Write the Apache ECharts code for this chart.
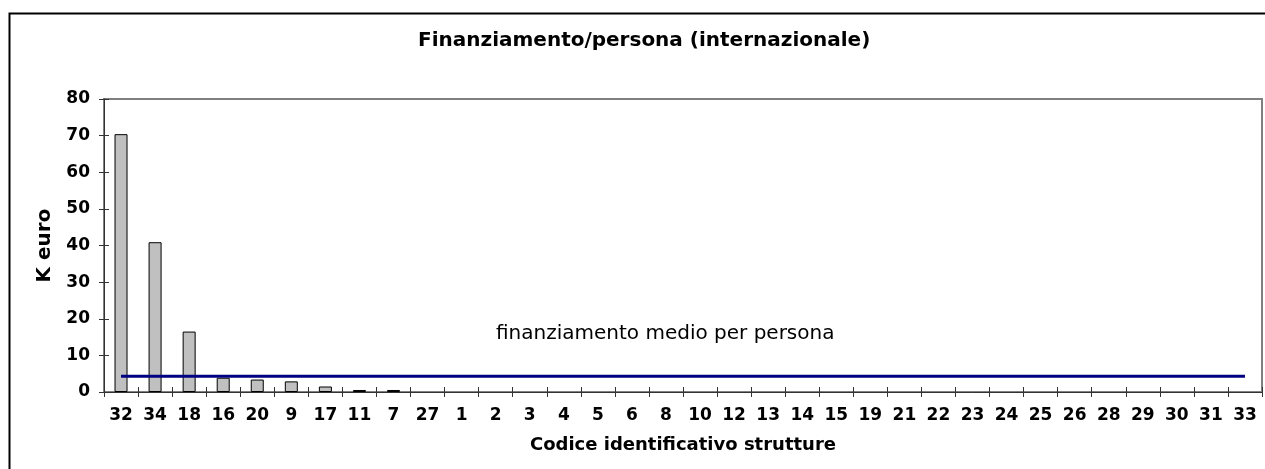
<!DOCTYPE html>
<html>
<head>
<meta charset="utf-8">
<script src="https://cdn.jsdelivr.net/npm/echarts@6/dist/echarts.min.js"></script>
<style>html,body{margin:0;padding:0;background:#fff}#c{width:1265px;height:469px}</style>
</head>
<body>
<div id="c"></div>
<script>
const titleText = 'Finanziamento/persona (internazionale)';
const yAxisName = 'K euro';
const xAxisName = 'Codice identificativo strutture';
const avgLabel = 'finanziamento medio per persona';
const categories = ['32','34','18','16','20','9','17','11','7','27','1','2','3','4','5','6','8','10','12','13','14','15','19','21','22','23','24','25','26','28','29','30','31','33'];
const values = [70.4, 40.9, 16.5, 3.9, 3.4, 2.9, 1.5, 0.55, 0.55, 0, 0, 0, 0, 0, 0, 0, 0, 0, 0, 0, 0, 0, 0, 0, 0, 0, 0, 0, 0, 0, 0, 0, 0, 0];
const averageValue = 4.3;
const averageLine = categories.map(() => averageValue);
const yTicks = {min: 0, max: 80, interval: 10};

const FONT = 'DejaVu Sans';
const chart = echarts.init(document.getElementById('c'));
chart.setOption({
  animation: false,
  backgroundColor: '#fff',
  textStyle: {fontFamily: FONT},
  title: {
    text: titleText, left: 413, top: 26,
    textStyle: {fontFamily: FONT, fontWeight: 'bold', fontSize: 20, color: '#000'}
  },
  graphic: [
    {type: 'rect', left: 7, top: 11, shape: {width: 1275, height: 475}, style: {fill: 'none', stroke: '#000', lineWidth: 2}, silent: true, z: 100},
    {type: 'text', left: 496, top: 324, style: {text: avgLabel, font: '20px "DejaVu Sans"', fill: '#000'}, z: 100}
  ],
  grid: {left: 104, right: 3, top: 99, bottom: 77, show: true, borderColor: '#808080', borderWidth: 2, backgroundColor: 'transparent'},
  xAxis: [{
    type: 'category', data: categories,
    name: xAxisName, nameLocation: 'middle', nameGap: 44,
    nameTextStyle: {fontFamily: FONT, fontWeight: 'bold', fontSize: 18, color: '#000'},
    axisLine: {lineStyle: {color: '#333', width: 1}},
    axisTick: {show: true, length: 5, alignWithLabel: false, lineStyle: {color: '#333'}},
    axisLabel: {fontFamily: FONT, fontWeight: 'bold', fontSize: 17, color: '#000', margin: 15, interval: 0}
  }, {
    type: 'category', data: categories, position: 'bottom',
    axisLine: {show: false},
    axisTick: {show: true, inside: true, length: 5, lineStyle: {color: '#333'}},
    axisLabel: {show: false}
  }],
  yAxis: [{
    type: 'value', min: yTicks.min, max: yTicks.max, interval: yTicks.interval,
    name: yAxisName, nameLocation: 'middle', nameGap: 49, nameRotate: 90,
    nameTextStyle: {fontFamily: FONT, fontWeight: 'bold', fontSize: 20, color: '#000'},
    axisLine: {show: true, lineStyle: {color: '#333', width: 1}},
    axisTick: {show: true, length: 5, lineStyle: {color: '#333'}},
    axisLabel: {fontFamily: FONT, fontWeight: 'bold', fontSize: 17, color: '#000', margin: 14},
    splitLine: {show: false}
  }, {
    type: 'value', min: yTicks.min, max: yTicks.max, interval: yTicks.interval, position: 'left',
    axisLine: {show: false},
    axisTick: {show: true, inside: true, length: 5, lineStyle: {color: '#333'}},
    axisLabel: {show: false},
    splitLine: {show: false}
  }],
  series: [{
    type: 'bar', data: values.map(v => (v === 0 ? null : v)), barWidth: 13,
    itemStyle: {color: '#C0C0C0', borderColor: '#000', borderWidth: 1},
    z: 2
  }, {
    type: 'line', data: averageLine, symbol: 'none',
    lineStyle: {color: '#000080', width: 3},
    z: 3
  }]
});
</script>
</body>
</html>
